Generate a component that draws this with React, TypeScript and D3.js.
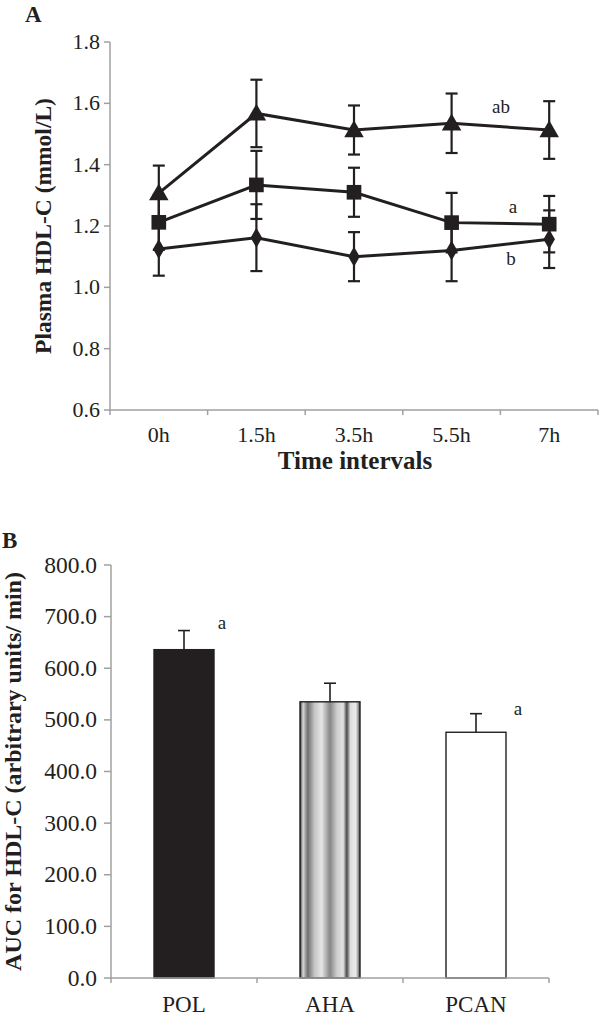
import React from "react";
import * as d3 from "d3";

const times = ["0h", "1.5h", "3.5h", "5.5h", "7h"];
const yTicksA = [0.6, 0.8, 1.0, 1.2, 1.4, 1.6, 1.8];
const triMean = [1.307, 1.567, 1.513, 1.535, 1.513];
const triErr = [0.09, 0.11, 0.08, 0.097, 0.094];
const sqMean = [1.212, 1.334, 1.31, 1.211, 1.206];
const sqErr = [0.09, 0.111, 0.08, 0.097, 0.092];
const diaMean = [1.125, 1.162, 1.1, 1.12, 1.157];
const diaErr = [0.087, 0.109, 0.08, 0.1, 0.094];

const groups = ["POL", "AHA", "PCAN"];
const aucMean = [636, 535, 476];
const aucErr = [37, 36, 36];
const yTicksB = [0, 100, 200, 300, 400, 500, 600, 700, 800];

const INK = "#231f20";
const AXIS = "#a0a0a0";
const FONT = "'Liberation Serif', 'DejaVu Serif', serif";

export default function App() {
  const xA = d3.scaleBand<string>().domain(times).range([110, 598]);
  const yA = d3.scaleLinear().domain([0.6, 1.8]).range([410, 42]);
  const cx = (t: string) => (xA(t) as number) + xA.bandwidth() / 2;

  const xB = d3.scaleBand<string>().domain(groups).range([111, 549]);
  const yB = d3.scaleLinear().domain([0, 800]).range([978, 565]);
  const barW = 60;

  const series = [
    { mean: triMean, err: triErr, shape: d3.symbolTriangle, size: 165 },
    { mean: sqMean, err: sqErr, shape: d3.symbolSquare, size: 215 },
    { mean: diaMean, err: diaErr, shape: d3.symbolDiamond, size: 115 },
  ];

  const line = d3
    .line<number>()
    .x((_, i) => cx(times[i]))
    .y((d) => yA(d));

  const bounds = times.map((t) => xA(t) as number).concat([598]);
  const boundsB = groups.map((g) => xB(g) as number).concat([549]);

  return (
    <svg
      width={600}
      height={1019}
      style={{ position: "absolute", left: 0, top: 0, background: "#fff" }}
      fontFamily={FONT}
    >
      <defs>
        <linearGradient id="aha" x1="0" x2="1" y1="0" y2="0">
          <stop offset="0" stopColor="#333" />
          <stop offset="0.05" stopColor="#d8d8d8" />
          <stop offset="0.13" stopColor="#6e6e6e" />
          <stop offset="0.24" stopColor="#c4c4c4" />
          <stop offset="0.36" stopColor="#e6e6e6" />
          <stop offset="0.5" stopColor="#868686" />
          <stop offset="0.62" stopColor="#d0d0d0" />
          <stop offset="0.72" stopColor="#e2e2e2" />
          <stop offset="0.78" stopColor="#4a4a4a" />
          <stop offset="0.84" stopColor="#dcdcdc" />
          <stop offset="0.93" stopColor="#eaeaea" />
          <stop offset="1" stopColor="#555" />
        </linearGradient>
      </defs>

      {/* Panel A */}
      <text x={25} y={22} fontSize={23} fontWeight="bold" fill={INK}>A</text>
      <line x1={110} x2={110} y1={42} y2={410} stroke={AXIS} strokeWidth={1.5} />
      {yTicksA.map((v) => (
        <g key={v}>
          <line x1={104} x2={110} y1={yA(v)} y2={yA(v)} stroke={AXIS} strokeWidth={1.5} />
          <text x={100} y={yA(v) + 7} fontSize={22} textAnchor="end" fill={INK}>
            {v.toFixed(1)}
          </text>
        </g>
      ))}
      <line x1={110} x2={598} y1={410} y2={410} stroke={AXIS} strokeWidth={1.5} />
      {bounds.map((b, i) => (
        <line key={i} x1={b} x2={b} y1={410} y2={415} stroke={AXIS} strokeWidth={1.5} />
      ))}
      {times.map((t) => (
        <text key={t} x={cx(t)} y={442} fontSize={22} textAnchor="middle" fill={INK}>
          {t}
        </text>
      ))}
      <text x={355} y={469} fontSize={25} fontWeight="bold" textAnchor="middle" fill={INK}>
        Time intervals
      </text>
      <text
        transform={`translate(51,${(42 + 410) / 2}) rotate(-90)`}
        fontSize={23.5}
        fontWeight="bold"
        textAnchor="middle"
        fill={INK}
      >
        Plasma HDL-C (mmol/L)
      </text>

      {series.map((s, si) => (
        <path key={"l" + si} d={line(s.mean) || ""} fill="none" stroke={INK} strokeWidth={3} />
      ))}
      {series.map((s, si) =>
        s.mean.map((m, i) => {
          const x = cx(times[i]);
          const y1 = yA(m + s.err[i]);
          const y2 = yA(m - s.err[i]);
          return (
            <g key={"e" + si + i} stroke={INK} strokeWidth={2.2}>
              <line x1={x} x2={x} y1={y1} y2={y2} />
              <line x1={x - 6} x2={x + 6} y1={y1} y2={y1} />
              <line x1={x - 6} x2={x + 6} y1={y2} y2={y2} />
            </g>
          );
        })
      )}
      {series.map((s, si) =>
        s.mean.map((m, i) => (
          <path
            key={"m" + si + i}
            d={d3.symbol().type(s.shape).size(s.size)() || ""}
            transform={`translate(${cx(times[i])},${yA(m) + (si === 0 ? 1.5 : 0)})`}
            fill={INK}
          />
        ))
      )}
      <text x={501} y={113} fontSize={19} textAnchor="middle" fill={INK}>ab</text>
      <text x={513} y={213} fontSize={19} textAnchor="middle" fill={INK}>a</text>
      <text x={511} y={265} fontSize={19} textAnchor="middle" fill={INK}>b</text>

      {/* Panel B */}
      <text x={2} y={548} fontSize={23} fontWeight="bold" fill={INK}>B</text>
      <line x1={111} x2={111} y1={565} y2={978} stroke={AXIS} strokeWidth={1.5} />
      {yTicksB.map((v) => (
        <g key={v}>
          <line x1={104} x2={111} y1={yB(v)} y2={yB(v)} stroke={AXIS} strokeWidth={1.5} />
          <text x={97} y={yB(v) + 7.5} fontSize={23.5} textAnchor="end" fill={INK}>
            {v.toFixed(1)}
          </text>
        </g>
      ))}
      <text
        transform={`translate(21,${(565 + 978) / 2}) rotate(-90)`}
        fontSize={24}
        fontWeight="bold"
        textAnchor="middle"
        fill={INK}
      >
        AUC for HDL-C (arbitrary units/ min)
      </text>

      {groups.map((g, i) => {
        const c = (xB(g) as number) + xB.bandwidth() / 2;
        const top = yB(aucMean[i]);
        const et = yB(aucMean[i] + aucErr[i]);
        const fill = i === 0 ? INK : i === 1 ? "url(#aha)" : "#fff";
        return (
          <g key={g}>
            <line x1={c} x2={c} y1={et} y2={top} stroke={INK} strokeWidth={1.6} />
            <line x1={c - 6} x2={c + 6} y1={et} y2={et} stroke={INK} strokeWidth={1.6} />
            <rect
              x={c - barW / 2}
              y={top}
              width={barW}
              height={yB(0) - top}
              fill={fill}
              stroke={INK}
              strokeWidth={1.4}
            />
            <text x={c} y={1012} fontSize={23} textAnchor="middle" fill={INK}>{g}</text>
          </g>
        );
      })}
      <line x1={111} x2={549} y1={978} y2={978} stroke={AXIS} strokeWidth={1.5} />
      {boundsB.map((b, i) => (
        <line key={i} x1={b} x2={b} y1={978} y2={983} stroke={AXIS} strokeWidth={1.5} />
      ))}
      <text x={222} y={629} fontSize={19} textAnchor="middle" fill={INK}>a</text>
      <text x={518} y={715} fontSize={19} textAnchor="middle" fill={INK}>a</text>
    </svg>
  );
}
